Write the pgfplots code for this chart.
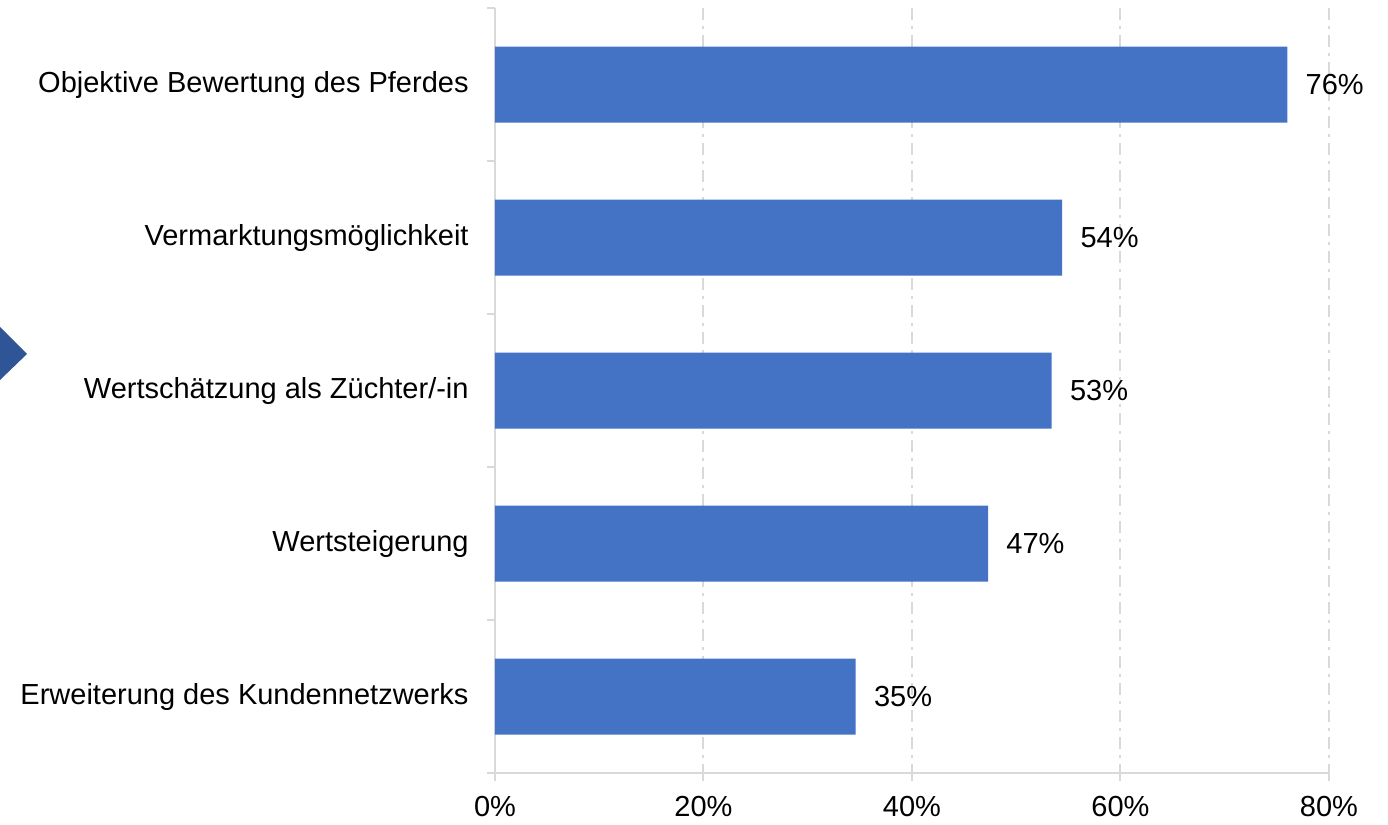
\documentclass[border=0pt]{standalone}
\usepackage{pgfplots}
\pgfplotsset{compat=1.18}
\usepackage{fontspec}
\setmainfont{Liberation Sans}
\definecolor{barblue}{HTML}{4472C4}
\definecolor{arrowblue}{HTML}{2F5597}
\definecolor{axgray}{HTML}{D9D9D9}
\begin{document}
\fontsize{14.5}{17}\selectfont
\begin{tikzpicture}
% canvas: 1 px of the reference = 0.5pt
\useasboundingbox (0,0) rectangle (694pt,412.5pt);
% decorative arrow tip at the left edge
\fill[arrowblue] (0pt,249pt) -- (13.5pt,235.5pt) -- (0pt,222.5pt) -- cycle;
\begin{axis}[
  at={(247.5pt,26pt)}, anchor=south west,
  scale only axis,
  width=417pt, height=382.5pt,
  xbar, bar width=38pt,
  xmin=0, xmax=80,
  ymin=0.5, ymax=5.5, y dir=reverse,
  axis lines=left,
  axis line style={-, draw=axgray, line width=1pt},
  xtick={0,20,40,60,80},
  xticklabel={\pgfmathprintnumber{\tick}\%},
  xmajorgrids,
  major grid style={axgray, line width=1pt, dash pattern=on 6pt off 3pt on 1.5pt off 3pt},
  ytick={1,2,3,4,5},
  yticklabels={Objektive Bewertung des Pferdes,Vermarktungsmöglichkeit,Wertschätzung als Züchter/-in,Wertsteigerung,Erweiterung des Kundennetzwerks},
  minor ytick={0.5,1.5,2.5,3.5,4.5,5.5},
  tick align=outside,
  major tick length=4pt,
  minor tick length=4pt,
  tick style={axgray, line width=1pt},
  major y tick style={draw=none},
  yticklabel style={inner sep=0pt, xshift=-9pt},
  xticklabel style={inner sep=0pt, yshift=-7.5pt},
  /pgf/number format/assume math mode=true,
  point meta=x,
  nodes near coords={\pgfmathprintnumber[fixed,precision=0]{\pgfplotspointmeta}\%},
  nodes near coords style={anchor=west, inner sep=0pt, xshift=9pt, text=black},
]
\addplot[fill=barblue, draw=none] coordinates {(76.0,1) (54.4,2) (53.4,3) (47.3,4) (34.6,5)};
\end{axis}
\end{tikzpicture}
\end{document}
